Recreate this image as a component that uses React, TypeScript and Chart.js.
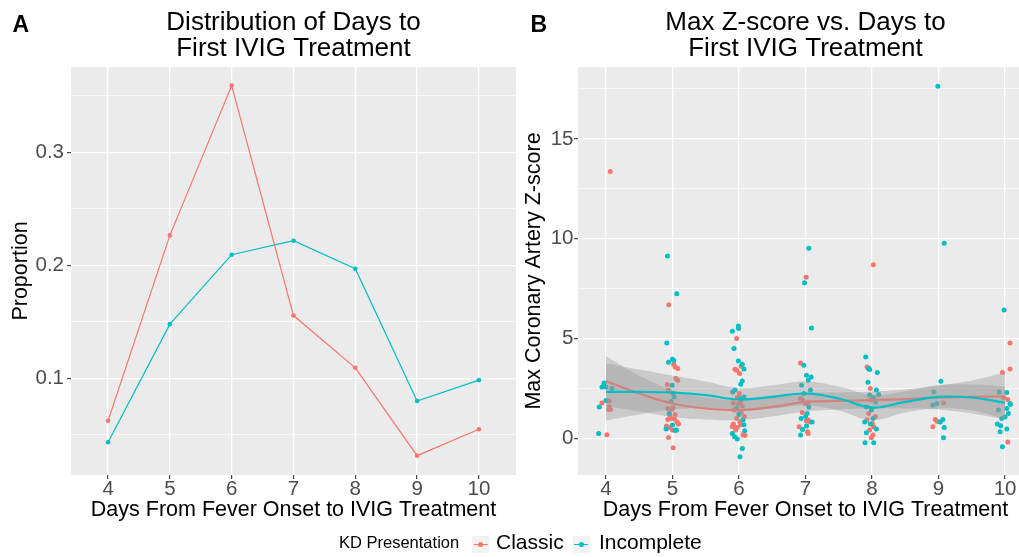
import React, { useEffect, useRef } from "react";
import { Chart, registerables } from "chart.js";

Chart.register(...registerables);

const FONT = "'Liberation Sans', Arial, Helvetica, sans-serif";
const RED = "#F8766D";
const TEAL = "#00BFC4";

// ---------- Panel A data ----------
const days = [4, 5, 6, 7, 8, 9, 10];
const dayTickLabels = ["4", "5", "6", "7", "8", "9", "10"];
const classicProportion = [0.0626, 0.2265, 0.359, 0.1556, 0.1094, 0.0317, 0.055];
const incompleteProportion = [0.0435, 0.148, 0.2094, 0.2218, 0.197, 0.08, 0.0985];
const proportionMajorTicks = [0.1, 0.2, 0.3];
const proportionTickLabels = ["0.1", "0.2", "0.3"];
const proportionMinorTicks = [0.05, 0.15, 0.25, 0.35];

// ---------- Panel B data ----------
const zMajorTicks = [0, 5, 10, 15];
const zTickLabels = ["0", "5", "10", "15"];
const zMinorTicks = [2.5, 7.5, 12.5, 17.5];

const classicDayJitter = [
  4.065, 3.94, 4.015, 4.05, 4.05, 4.07, 4.04,
  4.945, 5.02, 5.04, 5.08, 5.05, 5.08, 4.92, 4.94, 4.93, 4.99, 5.01, 4.96, 5.04, 4.93, 5.07, 5.09, 4.91, 4.96, 5.0, 4.94, 5.01, 4.98, 5.03,
  5.965, 5.94, 5.965, 6.03, 6.01, 6.005, 5.975, 6.025, 5.915, 5.99, 6.05, 5.925, 6.0, 6.035, 5.965, 6.015, 5.915, 5.925, 5.975, 5.95, 6.025, 6.06, 6.09, 6.08, 5.9,
  7.01, 6.925, 6.925, 6.96, 7.0, 7.04, 7.015, 7.04, 7.065, 6.905, 7.03, 7.04, 6.95,
  8.02, 7.925, 7.95, 7.975, 7.98, 7.95, 7.925, 8.005, 8.025, 7.965, 8.015, 7.99, 8.05,
  9.075, 8.95, 8.98, 8.915,
  10.075, 9.96, 10.075, 10.04, 10.04, 9.98,
];
const classicZ = [
  13.37, 1.78, 0.18, 1.88, 1.58, 1.45, 1.45,
  6.7, 3.7, 3.58, 3.5, 3.0, 2.92, 2.7, 2.42, 1.5, 1.45, 1.55, 1.17, 1.2, 0.95, 0.83, 0.73, 0.62, 0.55, 0.42, 0.05, -0.47, 1.0, 0.98,
  5.0, 3.47, 3.42, 3.62, 3.25, 2.25, 2.05, 1.83, 1.78, 1.75, 1.62, 1.42, 1.25, 1.3, 1.0, 0.83, 0.72, 0.58, 0.55, 0.42, 0.68, 0.18, 0.15, 1.1, 0.6,
  8.07, 3.78, 2.0, 1.9, 1.75, 1.8, 0.88, 0.92, 0.83, 0.58, 0.33, 0.25, 1.3,
  8.7, 3.58, 3.5, 2.5, 1.92, 1.25, 0.92, 0.75, 0.58, 0.42, 0.17, 0.03, 1.1,
  1.78, 0.95, 0.85, 0.58,
  4.78, 3.3, 3.48, 1.95, -0.18, 2.05,
];
const incompleteDayJitter = [
  3.97, 3.94, 4.0, 4.09, 4.0, 3.9, 3.89,
  4.925, 5.065, 4.915, 4.94, 5.0, 5.02, 4.995, 5.025, 5.01, 4.98, 5.0, 4.905, 5.06, 4.95, 5.04,
  5.9, 5.99, 5.995, 5.925, 5.99, 6.05, 6.075, 6.025, 6.05, 5.905, 5.94, 6.025, 6.075, 5.965, 6.06, 6.075, 6.085, 5.9, 5.935, 5.975, 6.05, 6.015, 6.0,
  7.05, 6.985, 7.09, 6.975, 7.015, 7.085, 7.04, 6.94, 7.075, 6.975, 7.05, 7.025, 6.935, 7.1, 6.955, 7.015, 6.925, 7.0,
  7.905, 7.95, 7.965, 8.08, 7.94, 8.065, 7.965, 8.025, 8.055, 7.915, 7.99, 8.015, 7.89, 7.975, 8.065, 7.915, 7.895, 8.025, 8.1,
  8.99, 9.085, 9.035, 8.93, 8.915, 8.975, 9.025, 9.065, 9.085, 9.075,
  9.985, 9.91, 10.025, 10.075, 9.9, 10.025, 10.05, 10.0, 9.95, 9.885, 9.935, 9.925, 10.025, 9.96, 10.08,
];
const incompleteZ = [
  2.78, 2.58, 2.58, 2.5, 1.9, 1.58, 0.25,
  9.13, 7.25, 4.78, 3.82, 3.97, 3.9, 2.67, 2.08, 2.25, 1.85, 0.67, 0.47, 0.42, 1.25, 0.4,
  5.37, 5.63, 5.5, 4.5, 3.88, 3.72, 3.48, 2.72, 2.88, 2.33, 2.42, 2.0, 2.08, 1.53, 0.92, 0.68, 0.38, 0.25, 0.08, -0.03, -0.5, -0.92, 1.2,
  9.53, 7.8, 5.53, 3.67, 3.17, 3.08, 2.92, 2.67, 2.42, 2.25, 1.58, 1.25, 1.0, 0.83, 0.45, 0.62, 0.17, 1.1,
  4.08, 3.5, 3.45, 3.3, 2.82, 2.42, 2.17, 2.05, 1.83, 1.58, 1.42, 1.0, 0.83, 0.72, 0.47, 0.28, -0.22, -0.22, 2.2,
  17.63, 9.77, 2.87, 2.33, 1.67, 1.75, 0.83, 0.95, 0.55, 0.03,
  6.43, 2.33, 2.3, 1.75, 1.42, 1.5, 1.25, 1.08, 1.0, 0.72, 0.63, 0.33, 0.47, -0.42, 1.7,
];

const smoothDays = [4, 4.5, 5, 5.5, 6, 6.5, 7, 7.5, 8, 8.5, 9, 9.5, 10];
const classicFit = [2.87, 2.25, 1.75, 1.5, 1.42, 1.58, 1.83, 1.88, 1.92, 1.97, 2.05, 2.08, 2.12];
const classicLower = [1.62, 1.35, 1.08, 0.95, 0.92, 1.1, 1.35, 1.45, 1.5, 1.5, 1.45, 1.25, 0.95];
const classicUpper = [4.12, 3.15, 2.42, 2.05, 1.92, 2.06, 2.3, 2.3, 2.35, 2.45, 2.65, 2.9, 3.3];
const incompleteFit = [2.33, 2.33, 2.3, 2.17, 1.95, 2.08, 2.25, 2.0, 1.55, 1.83, 2.08, 2.05, 1.78];
const incompleteLower = [0.9, 1.2, 1.45, 1.5, 1.38, 1.5, 1.65, 1.4, 0.92, 1.3, 1.5, 1.4, 0.98];
const incompleteUpper = [3.75, 3.45, 3.15, 2.85, 2.52, 2.66, 2.85, 2.6, 2.18, 2.36, 2.66, 2.7, 2.6];

const xAxisTitle = "Days From Fever Onset to IVIG Treatment";
const legendTitle = "KD Presentation";
const seriesNames = ["Classic", "Incomplete"];

// ---------- helpers ----------
const zip = (xs: number[], ys: number[]) =>
  xs.slice(0, Math.min(xs.length, ys.length)).map((x, i) => ({ x, y: ys[i] }));

const panelBg = {
  id: "panelBg",
  beforeDraw(chart: any) {
    const { ctx, chartArea } = chart;
    ctx.save();
    ctx.fillStyle = "#EBEBEB";
    ctx.fillRect(chartArea.left, chartArea.top, chartArea.right - chartArea.left, chartArea.bottom - chartArea.top);
    ctx.restore();
  },
};

const panelText = {
  id: "panelText",
  afterDraw(chart: any, _args: any, opts: any) {
    const { ctx, chartArea } = chart;
    ctx.save();
    ctx.fillStyle = "#000000";
    ctx.textBaseline = "alphabetic";
    ctx.textAlign = "center";
    ctx.font = `26px ${FONT}`;
    const cx = (chartArea.left + chartArea.right) / 2;
    const lines: string[] = opts.lines || [];
    const bases: number[] = opts.baselines || [];
    lines.forEach((l, i) => ctx.fillText(l, cx, bases[i]));
    ctx.textAlign = "left";
    ctx.font = `bold 23px ${FONT}`;
    ctx.fillText(opts.letter, opts.letterX, 31.5);
    ctx.restore();
  },
};

function xScale(min: number, max: number) {
  return {
    type: "linear",
    min,
    max,
    afterBuildTicks: (s: any) => {
      s.ticks = days.map((v) => ({ value: v }));
    },
    afterFit: (s: any) => {
      s.height = 48;
    },
    ticks: {
      autoSkip: false,
      maxRotation: 0,
      minRotation: 0,
      padding: 0,
      color: "#4D4D4D",
      font: { family: FONT, size: 20.5, lineHeight: 1 },
      callback: (v: number) => {
        const i = days.indexOf(v);
        return i >= 0 ? dayTickLabels[i] : "";
      },
    },
    grid: {
      color: "#FFFFFF",
      lineWidth: 1.3,
      tickLength: 4,
      tickColor: "#333333",
      tickWidth: 1.1,
    },
    border: { display: false },
    title: {
      display: true,
      text: xAxisTitle,
      color: "#000000",
      font: { family: FONT, size: 21.5, lineHeight: 1.2 },
      padding: { top: 0, bottom: 0 },
    },
  };
}

function yScale(
  min: number,
  max: number,
  majors: number[],
  labels: string[],
  minors: number[],
  title: string,
  width: number,
  titlePad: number,
  labelPad: number
) {
  const isMajor = (v: number) => majors.indexOf(v) >= 0;
  return {
    type: "linear",
    min,
    max,
    afterBuildTicks: (s: any) => {
      s.ticks = [...majors, ...minors].sort((a, b) => a - b).map((v) => ({ value: v }));
    },
    afterFit: (s: any) => {
      s.width = width;
    },
    ticks: {
      autoSkip: false,
      padding: labelPad,
      color: "#4D4D4D",
      font: { family: FONT, size: 20.5, lineHeight: 1 },
      callback: (v: number) => {
        const i = majors.indexOf(v);
        return i >= 0 ? labels[i] : "";
      },
    },
    grid: {
      color: "#FFFFFF",
      lineWidth: (c: any) => (c.tick && isMajor(c.tick.value) ? 1.3 : 0.65),
      tickLength: 4,
      tickColor: (c: any) => (c.tick && isMajor(c.tick.value) ? "#333333" : "rgba(0,0,0,0)"),
      tickWidth: 1.1,
    },
    border: { display: false },
    title: {
      display: true,
      text: title,
      color: "#000000",
      font: { family: FONT, size: 21.5, lineHeight: 1.2 },
      padding: { top: titlePad, bottom: 0 },
    },
  };
}

function PanelA() {
  const ref = useRef<HTMLCanvasElement>(null);
  useEffect(() => {
    if (!ref.current) return;
    const chart = new Chart(ref.current, {
      type: "line",
      data: {
        datasets: [
          {
            label: seriesNames[0],
            data: zip(days, classicProportion),
            borderColor: RED,
            backgroundColor: RED,
            borderWidth: 1.2,
            pointRadius: 2.3,
            pointBorderWidth: 0,
            pointBackgroundColor: RED,
            tension: 0,
          },
          {
            label: seriesNames[1],
            data: zip(days, incompleteProportion),
            borderColor: TEAL,
            backgroundColor: TEAL,
            borderWidth: 1.2,
            pointRadius: 2.3,
            pointBorderWidth: 0,
            pointBackgroundColor: TEAL,
            tension: 0,
          },
        ],
      } as any,
      options: {
        responsive: false,
        animation: false,
        events: [],
        layout: { padding: { left: 0, top: 67, right: 3, bottom: 34 } },
        scales: {
          x: xScale(3.4, 10.6) as any,
          y: yScale(0.0146, 0.3754, proportionMajorTicks, proportionTickLabels, proportionMinorTicks, "Proportion", 71, 8, 3) as any,
        },
        plugins: {
          legend: { display: false },
          tooltip: { enabled: false },
          panelText: {
            lines: ["Distribution of Days to", "First IVIG Treatment"],
            baselines: [29.5, 56],
            letter: "A",
            letterX: 12.5,
          },
        } as any,
      },
      plugins: [panelBg, panelText],
    });
    return () => chart.destroy();
  }, []);
  return <canvas ref={ref} width={520} height={557} style={{ position: "absolute", left: 0, top: 0 }} />;
}

function PanelB() {
  const ref = useRef<HTMLCanvasElement>(null);
  useEffect(() => {
    if (!ref.current) return;
    const band = "rgba(153,153,153,0.4)";
    const chart = new Chart(ref.current, {
      type: "line",
      data: {
        datasets: [
          {
            label: seriesNames[0],
            data: zip(classicDayJitter, classicZ),
            showLine: false,
            pointRadius: 2.5,
            pointBorderWidth: 0,
            pointBackgroundColor: RED,
            borderColor: RED,
            order: 10,
          },
          {
            label: seriesNames[1],
            data: zip(incompleteDayJitter, incompleteZ),
            showLine: false,
            pointRadius: 2.5,
            pointBorderWidth: 0,
            pointBackgroundColor: TEAL,
            borderColor: TEAL,
            order: 9,
          },
          {
            label: "classic lower",
            data: zip(smoothDays, classicLower),
            borderWidth: 0,
            borderColor: "rgba(0,0,0,0)",
            pointRadius: 0,
            tension: 0.4,
            fill: false,
            order: 8,
          },
          {
            label: "classic upper",
            data: zip(smoothDays, classicUpper),
            borderWidth: 0,
            borderColor: "rgba(0,0,0,0)",
            backgroundColor: band,
            pointRadius: 0,
            tension: 0.4,
            fill: 2,
            order: 7,
          },
          {
            label: "classic fit",
            data: zip(smoothDays, classicFit),
            borderWidth: 2.2,
            borderColor: RED,
            pointRadius: 0,
            tension: 0.4,
            fill: false,
            order: 6,
          },
          {
            label: "incomplete lower",
            data: zip(smoothDays, incompleteLower),
            borderWidth: 0,
            borderColor: "rgba(0,0,0,0)",
            pointRadius: 0,
            tension: 0.4,
            fill: false,
            order: 5,
          },
          {
            label: "incomplete upper",
            data: zip(smoothDays, incompleteUpper),
            borderWidth: 0,
            borderColor: "rgba(0,0,0,0)",
            backgroundColor: band,
            pointRadius: 0,
            tension: 0.4,
            fill: 5,
            order: 4,
          },
          {
            label: "incomplete fit",
            data: zip(smoothDays, incompleteFit),
            borderWidth: 2.2,
            borderColor: TEAL,
            pointRadius: 0,
            tension: 0.4,
            fill: false,
            order: 3,
          },
        ],
      } as any,
      options: {
        responsive: false,
        animation: false,
        events: [],
        layout: { padding: { left: 0, top: 67, right: 17, bottom: 34 } },
        scales: {
          x: xScale(3.58, 10.42) as any,
          y: yScale(-1.83, 18.6, zMajorTicks, zTickLabels, zMinorTicks, "Max Coronary Artery Z-score", 58, 1.5, 0.5) as any,
        },
        plugins: {
          legend: { display: false },
          tooltip: { enabled: false },
          filler: { propagate: false },
          panelText: {
            lines: ["Max Z-score vs. Days to", "First IVIG Treatment"],
            baselines: [29.5, 56],
            letter: "B",
            letterX: 10.5,
          },
        } as any,
      },
      plugins: [panelBg, panelText],
    });
    return () => chart.destroy();
  }, []);
  return <canvas ref={ref} width={530} height={557} style={{ position: "absolute", left: 520, top: 0 }} />;
}

function LegendKey({ left, color }: { left: number; color: string }) {
  return (
    <div style={{ position: "absolute", left, top: 535.5, width: 17, height: 17, background: "#F2F2F2" }}>
      <div style={{ position: "absolute", left: 1.5, width: 14, top: 8, height: 1.2, background: color }} />
      <div
        style={{
          position: "absolute",
          left: 6,
          top: 6.1,
          width: 5,
          height: 5,
          borderRadius: "50%",
          background: color,
        }}
      />
    </div>
  );
}

export default function App() {
  const textBase: React.CSSProperties = {
    position: "absolute",
    top: 528,
    lineHeight: "28px",
    fontFamily: FONT,
    color: "#000000",
    whiteSpace: "nowrap",
  };
  return (
    <div
      style={{
        position: "absolute",
        left: 0,
        top: 0,
        width: 1019,
        height: 557,
        overflow: "hidden",
        background: "#FFFFFF",
      }}
    >
      <PanelA />
      <PanelB />
      <span style={{ ...textBase, left: 339, fontSize: 16.5 }}>{legendTitle}</span>
      <LegendKey left={472} color={RED} />
      <span style={{ ...textBase, left: 496, fontSize: 21 }}>{seriesNames[0]}</span>
      <LegendKey left={572.5} color={TEAL} />
      <span style={{ ...textBase, left: 599, fontSize: 21 }}>{seriesNames[1]}</span>
    </div>
  );
}
